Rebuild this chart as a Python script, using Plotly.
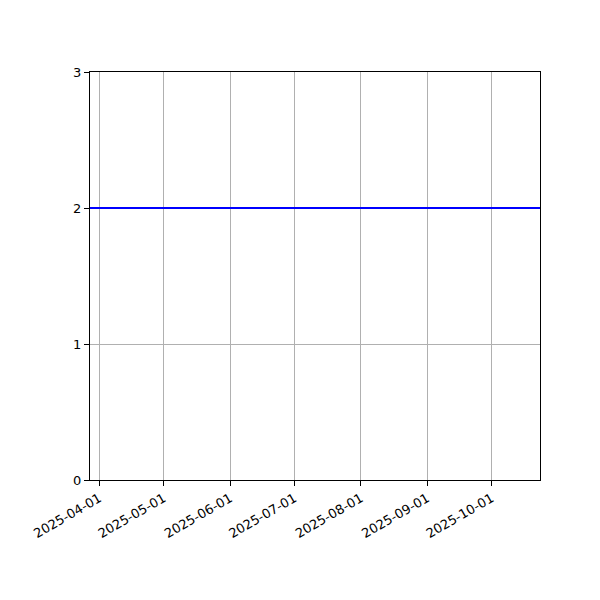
import plotly.graph_objects as go

# --- Data ---
dates = ["2025-03-27 16:00", "2025-10-23 14:00"]
values = [2, 2]

tick_dates = ["2025-04-01", "2025-05-01", "2025-06-01", "2025-07-01",
              "2025-08-01", "2025-09-01", "2025-10-01"]
y_ticks = [0, 1, 2, 3]

fig = go.Figure()
fig.add_trace(go.Scatter(
    x=dates, y=values, mode="lines",
    line=dict(color="#0000ff", width=2),
    showlegend=False, hoverinfo="skip",
))

axis_common = dict(
    showline=True, linecolor="black", linewidth=1, mirror=True,
    ticks="outside", ticklen=5, tickwidth=1, tickcolor="black",
    showgrid=True, gridcolor="#b0b0b0", gridwidth=1,
    zeroline=False,
    tickfont=dict(family="DejaVu Sans", size=13, color="black"),
)

fig.update_xaxes(
    type="date", range=[dates[0], dates[-1]],
    tickvals=tick_dates, ticktext=tick_dates, tickangle=-30,
    **axis_common,
)
fig.update_yaxes(range=[0, 3], tickvals=y_ticks, **axis_common)

# page body adds ~8px offset, margins compensate
fig.update_layout(
    width=600, height=600,
    margin=dict(l=82, r=68, t=64, b=128),
    paper_bgcolor="white", plot_bgcolor="white",
    font=dict(family="DejaVu Sans", color="black"),
)

fig.write_html("out.html")
